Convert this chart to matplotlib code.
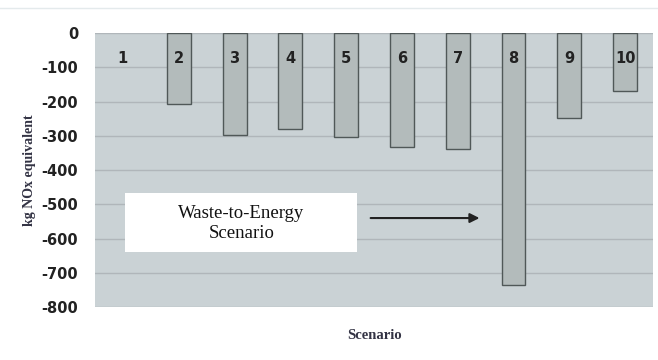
import numpy as np
import matplotlib.pyplot as plt
from matplotlib.patches import Rectangle

scenarios = ['1', '2', '3', '4', '5', '6', '7', '8', '9', '10']
nox = [0, -207, -297, -279, -302, -334, -337, -735, -247, -169]
yticks = [0, -100, -200, -300, -400, -500, -600, -700, -800]

fig = plt.figure(figsize=(6.58, 3.60), dpi=100)
ax = fig.add_axes([0.1444, 0.147, 0.848, 0.761])
ax.set_facecolor('#cad2d5')

x = np.arange(len(scenarios))
lw = [0 if v == 0 else 1.0 for v in nox]  # scenario 1 has no visible bar
ax.bar(x, nox, width=0.43, color='#b3bbbb', edgecolor='#505858', linewidth=lw, zorder=3)

# number labels inside the bars
for i, s in enumerate(scenarios):
    ax.text(i, -75, s, ha='center', va='center', fontsize=10.5, fontweight='bold',
            color='#222222', zorder=4)

ax.set_xlim(-0.5, len(scenarios) - 0.5)
ax.set_ylim(-800, 0)
ax.set_yticks(yticks)
ax.set_yticklabels([str(v) for v in yticks], fontsize=10.5, fontweight='bold', color='#222222')
ax.set_xticks([])
ax.tick_params(axis='y', length=0, pad=12)
ax.yaxis.grid(True, color='#b0b6ba', linewidth=1.0, zorder=1)
for sp in ax.spines.values():
    sp.set_visible(False)

ax.set_ylabel('kg NOx equivalent', fontsize=10, fontweight='bold', family='Liberation Serif',
              color='#333344', labelpad=4)
ax.set_xlabel('Scenario', fontsize=10.5, fontweight='bold', family='Liberation Serif',
              color='#333344', labelpad=16)

# annotation box and arrow
ax.add_patch(Rectangle((0.04, -639), 4.16, 172, facecolor='white', edgecolor='none', zorder=5))
ax.text(2.12, -557, 'Waste-to-Energy\nScenario', ha='center', va='center', fontsize=13.5,
        family='Liberation Serif', color='#111111', linespacing=1.25, zorder=6)
ax.annotate('', xy=(6.44, -540), xytext=(4.39, -540),
            arrowprops=dict(arrowstyle='-|>', color='#222222', lw=1.5, mutation_scale=14), zorder=6)

# faint line at the top of the image
fig.add_artist(plt.Line2D([0.0, 1.0], [0.978, 0.978], color='#e4eaec', lw=1.0))

fig.savefig('out.png', dpi=100)
